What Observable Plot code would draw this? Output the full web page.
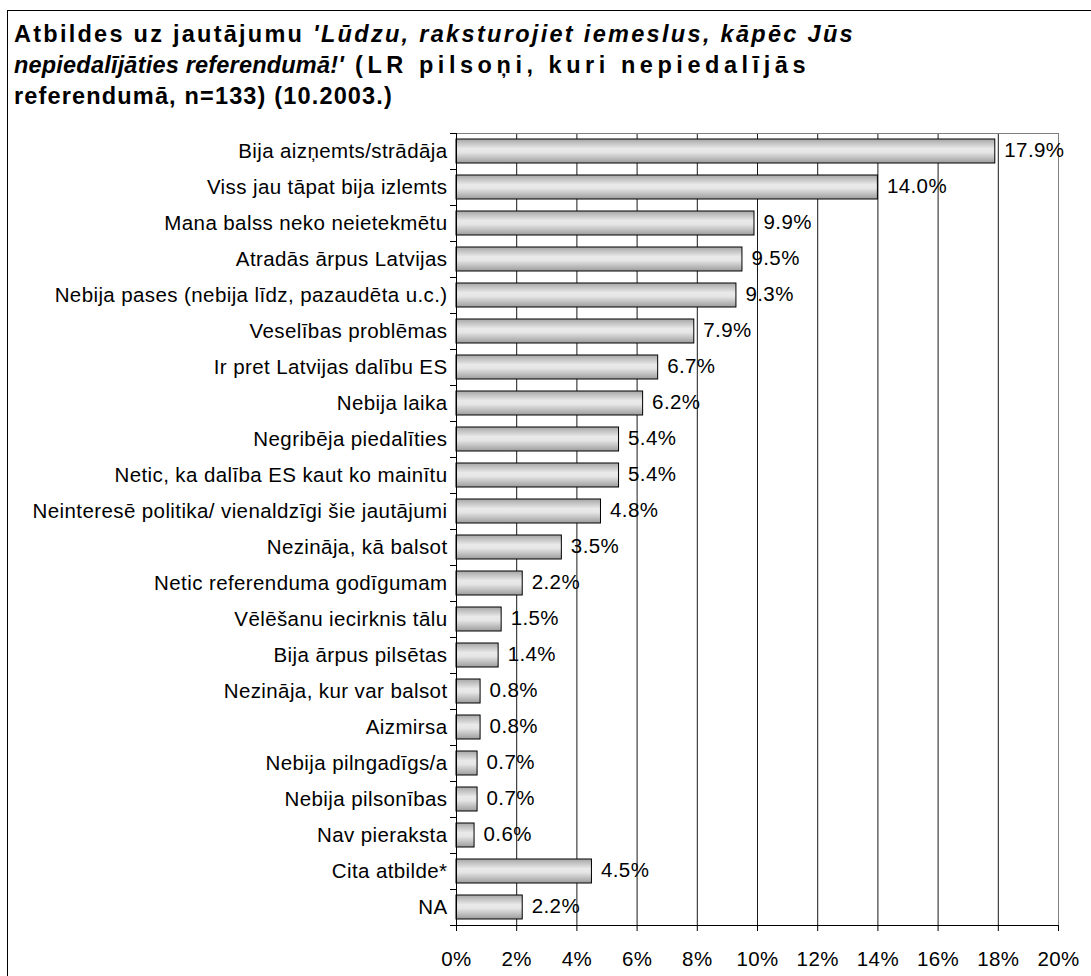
<!DOCTYPE html>
<html>
<head>
<meta charset="utf-8">
<script src="https://cdn.jsdelivr.net/npm/d3@7"></script>
<script src="https://cdn.jsdelivr.net/npm/@observablehq/plot@0.6"></script>
<style>
  html, body { margin: 0; padding: 0; background: #fff; }
  body { width: 1091px; height: 976px; position: relative; overflow: hidden; font-family: "Liberation Sans", Arial, sans-serif; }
  #frame { position: absolute; left: 7px; top: 10px; width: 1200px; height: 1100px; border-left: 1px solid #000; border-top: 1px solid #000; }
  #title { position: absolute; left: 14px; top: 19px; font-size: 23.5px; font-weight: bold; line-height: 31px; color: #000; white-space: pre; }
  #title span { white-space: pre; }
  #chart { position: absolute; left: 0; top: 120px; }
</style>
</head>
<body>
<div id="frame"></div>
<div id="title"><span data-w="299">Atbildes uz jautājumu </span><i><span data-w="542">'Lūdzu, raksturojiet iemeslus, kāpēc Jūs</span></i><br><i><span data-w="330">nepiedalījāties referendumā!'</span></i><span data-w="466"> (LR pilsoņi, kuri nepiedalījās</span><br><span data-w="379">referendumā, n=133) (10.2003.)</span></div>
<div id="chart"></div>
<script>
const categories = [
  "Bija aizņemts/strādāja",
  "Viss jau tāpat bija izlemts",
  "Mana balss neko neietekmētu",
  "Atradās ārpus Latvijas",
  "Nebija pases (nebija līdz, pazaudēta u.c.)",
  "Veselības problēmas",
  "Ir pret Latvijas dalību ES",
  "Nebija laika",
  "Negribēja piedalīties",
  "Netic, ka dalība ES kaut ko mainītu",
  "Neinteresē politika/ vienaldzīgi šie jautājumi",
  "Nezināja, kā balsot",
  "Netic referenduma godīgumam",
  "Vēlēšanu iecirknis tālu",
  "Bija ārpus pilsētas",
  "Nezināja, kur var balsot",
  "Aizmirsa",
  "Nebija pilngadīgs/a",
  "Nebija pilsonības",
  "Nav pieraksta",
  "Cita atbilde*",
  "NA"
];
const values = [17.9, 14.0, 9.9, 9.5, 9.3, 7.9, 6.7, 6.2, 5.4, 5.4, 4.8, 3.5, 2.2, 1.5, 1.4, 0.8, 0.8, 0.7, 0.7, 0.6, 4.5, 2.2];
const xTicks = [0, 2, 4, 6, 8, 10, 12, 14, 16, 18, 20];

// stretch title segments to the widths seen in the reference
document.querySelectorAll("#title span[data-w]").forEach(s => {
  const target = +s.dataset.w;
  const w = s.getBoundingClientRect().width;
  const n = s.textContent.length;
  s.style.letterSpacing = Math.max(0, (target - w) / n) + "px";
});

const data = categories.map((c, i) => ({category: c, value: values[i]}));
const step = 36;

const chart = Plot.plot({
  width: 1091,
  height: 856,
  marginTop: 13,
  marginBottom: 51,
  marginLeft: 456,
  marginRight: 33,
  style: {fontSize: "20.5px", fontFamily: "'Liberation Sans', Arial, sans-serif", letterSpacing: "0.4px", color: "#000", background: "transparent"},
  x: {domain: [0, 20], ticks: xTicks},
  y: {domain: categories, paddingInner: 0.333, paddingOuter: 0.1665},
  marks: [
    Plot.ruleX(xTicks.filter(t => t > 0 && t < 20), {stroke: "#1a1a1a", strokeWidth: 1}),
    Plot.ruleX([20], {stroke: "#808080", strokeWidth: 1}),
    Plot.frame({anchor: "top", stroke: "#808080"}),
    Plot.barX(data, {x: "value", y: "category", fill: "url(#bargrad)", stroke: "#000", strokeWidth: 1}),
    Plot.text(data, {x: "value", y: "category", text: d => d.value.toFixed(1) + "%", textAnchor: "start", dx: 9, dy: -1, fill: "#000"}),
    Plot.ruleY(categories, {y: d => d, x1: -0.2, x2: 0, dy: step / 2, stroke: "#000"}),
    Plot.ruleY([categories[0]], {y: d => d, x1: -0.2, x2: 0, dy: -step / 2, stroke: "#000"}),
    Plot.axisY({tickSize: 0, tickPadding: 9, label: null}),
    Plot.axisX({ticks: xTicks, tickSize: 6, tickPadding: 20, tickFormat: d => d + "%", label: null}),
    Plot.frame({anchor: "left", stroke: "#000"}),
    Plot.frame({anchor: "bottom", stroke: "#000"})
  ]
});

const ns = "http://www.w3.org/2000/svg";
const defs = document.createElementNS(ns, "defs");
const grad = document.createElementNS(ns, "linearGradient");
grad.setAttribute("id", "bargrad");
grad.setAttribute("x1", "0"); grad.setAttribute("y1", "0");
grad.setAttribute("x2", "0"); grad.setAttribute("y2", "1");
[["0", "#a6a6a6"], ["0.4", "#e9e9e9"], ["0.55", "#e7e7e7"], ["1", "#9c9c9c"]].forEach(([o, c]) => {
  const s = document.createElementNS(ns, "stop");
  s.setAttribute("offset", o);
  s.setAttribute("stop-color", c);
  grad.appendChild(s);
});
defs.appendChild(grad);
chart.insertBefore(defs, chart.firstChild);

document.getElementById("chart").appendChild(chart);
</script>
</body>
</html>
